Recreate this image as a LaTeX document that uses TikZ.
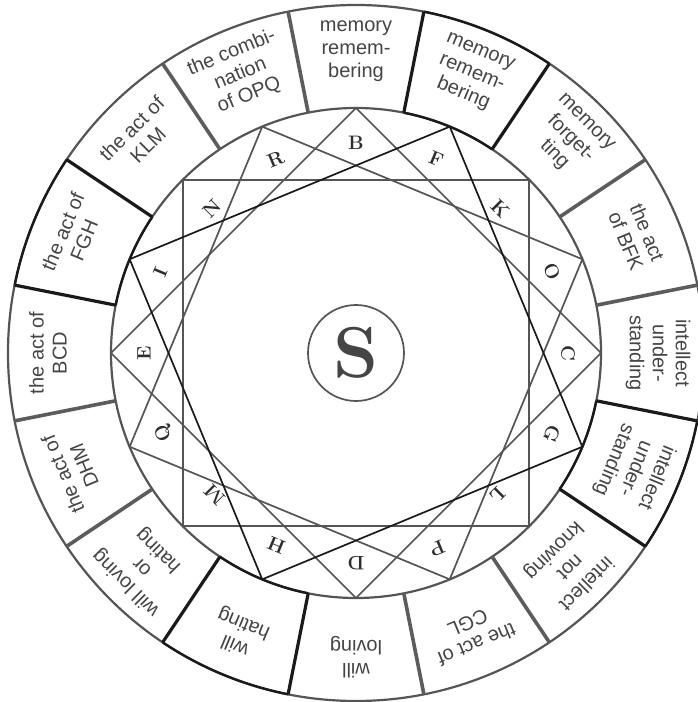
\documentclass[tikz,border=0pt]{standalone}
\usepackage{fontspec}
\newfontfamily\sectfont{Liberation Sans}
\definecolor{txtgray}{HTML}{454545}
\definecolor{ltrgray}{HTML}{2E2E2E}
\definecolor{lngray}{HTML}{555555}
\definecolor{lnblack}{HTML}{1A1A1A}
\definecolor{divgray}{HTML}{5C5C5C}
\begin{document}
\begin{tikzpicture}[x=1pt,y=1pt,
  sect/.style={font=\sectfont\fontsize{20}{23}\selectfont, text=txtgray, align=center, inner sep=0pt},
  letter/.style={font=\bfseries\fontsize{19.5}{19.5}\selectfont, text=ltrgray, inner sep=0pt},
  graysq/.style={draw=lngray, line width=1.7pt, line join=miter},
  blacksq/.style={draw=lnblack, line width=1.7pt, line join=miter},
  ringline/.style={draw=lngray, line width=2.2pt},
  blackarc/.style={draw=lnblack, line width=2.4pt},
  graydiv/.style={draw=divgray, line width=3.6pt},
  blackdiv/.style={draw=lnblack, line width=3.2pt},
  centre/.style={circle, draw=lngray, line width=1.7pt, minimum size=96pt, inner sep=0pt,
    font=\bfseries\fontsize{72}{72}\selectfont, text=txtgray}
]
\useasboundingbox (0,0) rectangle (698,702);
\begin{scope}[shift={(356,349)}]
  % ring circles
  \draw[ringline] (0,0) circle[radius=348];
  \draw[ringline] (0,0) circle[radius=245];
  % dividers
  \foreach \a in {11.25,33.75,101.25,123.75,191.25,213.75,281.25,303.75}
    \draw[graydiv] (\a:245) -- (\a:348);
  % black sectors (F, I, H, G positions)
  \foreach \c in {67.5,157.5,247.5,337.5}{
    \draw[blackarc] (\c-11.25:348) arc[start angle=\c-11.25, end angle=\c+11.25, radius=348];
    \draw[blackarc] (\c-11.25:245) arc[start angle=\c-11.25, end angle=\c+11.25, radius=245];
    \draw[blackdiv] (\c-11.25:245) -- (\c-11.25:348);
    \draw[blackdiv] (\c+11.25:245) -- (\c+11.25:348);
  }
  % vertices
  \coordinate (vB) at (90:245);
  \coordinate (vF) at (67.5:245);
  \coordinate (vK) at (45:245);
  \coordinate (vO) at (22.5:245);
  \coordinate (vC) at (0:245);
  \coordinate (vG) at (-22.5:245);
  \coordinate (vL) at (-45:245);
  \coordinate (vP) at (-67.5:245);
  \coordinate (vD) at (-90:245);
  \coordinate (vH) at (-112.5:245);
  \coordinate (vM) at (-135:245);
  \coordinate (vQ) at (-157.5:245);
  \coordinate (vE) at (180:245);
  \coordinate (vI) at (157.5:245);
  \coordinate (vN) at (135:245);
  \coordinate (vR) at (112.5:245);
  % squares
  \draw[graysq] (vB) -- (vC) -- (vD) -- (vE) -- cycle;
  \draw[graysq] (vK) -- (vL) -- (vM) -- (vN) -- cycle;
  \draw[graysq] (vO) -- (vP) -- (vQ) -- (vR) -- cycle;
  \draw[blacksq] (vF) -- (vG) -- (vH) -- (vI) -- cycle;
  % letters
  \node[letter, rotate=0]      (lB) at (90:210) {B};
  \node[letter, rotate=-22.5]  (lF) at (67.5:210) {F};
  \node[letter, rotate=-45]    (lK) at (45:204) {K};
  \node[letter, rotate=-67.5]  (lO) at (22.5:212) {O};
  \node[letter, rotate=-90]    (lC) at (0:212) {C};
  \node[letter, rotate=-112.5] (lG) at (-22.5:212) {G};
  \node[letter, rotate=-135]   (lL) at (-45:200) {L};
  \node[letter, rotate=-157.5] (lP) at (-67.5:212) {P};
  \node[letter, rotate=180]    (lD) at (-90:210) {D};
  \node[letter, rotate=157.5]  (lH) at (-112.5:208) {H};
  \node[letter, rotate=135]    (lM) at (-135:200) {M};
  \node[letter, rotate=112.5]  (lQ) at (-157.5:208) {Q};
  \node[letter, rotate=90]     (lE) at (180:212) {E};
  \node[letter, rotate=67.5]   (lI) at (157.5:212) {I};
  \node[letter, rotate=45]     (lN) at (135:204) {N};
  \node[letter, rotate=22.5]   (lR) at (112.5:210) {R};
  % centre
  \node[centre] (S) at (0,0) {S};
  % sector texts
  \node[sect, rotate=0]      (s1)  at (90:302)    {memory\\remem-\\bering};
  \node[sect, rotate=-22.5]  (s2)  at (67.5:302)  {memory\\remem-\\bering};
  \node[sect, rotate=-45]    (s3)  at (45:302)    {memory\\forget-\\ting};
  \node[sect, rotate=-67.5]  (s4)  at (22.5:304)  {the act\\of BFK};
  \node[sect, rotate=-90]    (s5)  at (0:302)     {intellect\\under-\\standing};
  \node[sect, rotate=-112.5] (s6)  at (-22.5:302) {intellect\\under-\\standing};
  \node[sect, rotate=-135]   (s7)  at (-45:302)   {intellect\\not\\knowing};
  \node[sect, rotate=-157.5] (s8)  at (-67.5:304) {the act of\\CGL};
  \node[sect, rotate=180]    (s9)  at (-90:304)   {will\\loving};
  \node[sect, rotate=157.5]  (s10) at (-112.5:304){will\\hating};
  \node[sect, rotate=135]    (s11) at (-135:302)  {will loving\\or\\hating};
  \node[sect, rotate=112.5]  (s12) at (-157.5:306){the act of\\DHM};
  \node[sect, rotate=90]     (s13) at (180:308)   {the act of\\BCD};
  \node[sect, rotate=67.5]   (s14) at (157.5:306) {the act of\\FGH};
  \node[sect, rotate=45]     (s15) at (135:306)   {the act of\\KLM};
  \node[sect, rotate=22.5]   (s16) at (112.5:302) {the combi-\\nation\\of OPQ};
\end{scope}
\end{tikzpicture}
\end{document}
